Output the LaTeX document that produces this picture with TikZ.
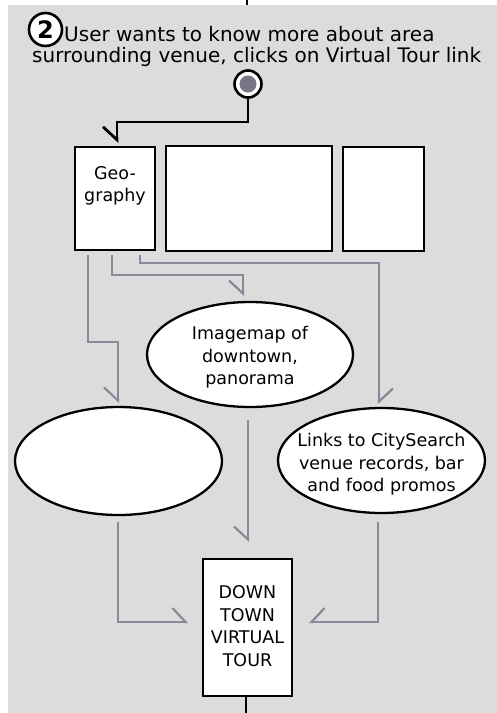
\documentclass[tikz,border=0pt]{standalone}
\usepackage{fontspec}
\setmainfont{DejaVu Sans}
\usetikzlibrary{arrows.meta,shapes.geometric}
\definecolor{panel}{RGB}{220,220,220}
\definecolor{flow}{RGB}{138,136,152}
\definecolor{dotfill}{RGB}{122,118,136}
\tikzset{
  box/.style={draw=black,fill=white,line width=2.8pt,rectangle,inner sep=0pt},
  oval/.style={draw=black,fill=white,line width=2.3pt,ellipse,inner sep=0pt},
  lbl/.style={align=center,font=\fontsize{17.5}{22.5}\selectfont,inner sep=0pt},
  ttl/.style={font=\fontsize{20}{21}\selectfont,inner sep=0pt,anchor=base west},
  link/.style={draw=black,line width=2.8pt},
  rel/.style={draw=flow,line width=2.2pt},
  harpR/.style={-{Straight Barb[right,length=13pt,width=28pt]}},
  harpL/.style={-{Straight Barb[left,length=13pt,width=28pt]}}
}
\begin{document}
\begin{tikzpicture}[x=1pt,y=-1pt]
\useasboundingbox (0,0) rectangle (497,713);
\fill[white] (0,0) rectangle (497,713);
\fill[panel] (8,5) rectangle (497,713);

% step heading
\node[circle,draw=black,line width=2.6pt,fill=white,minimum size=33pt,inner sep=0pt,
      font=\fontsize{24}{24}\selectfont\bfseries] (num) at (45.5,29.5) {2};
\node[ttl] (title1) at (64,41) {User wants to know more about area};
\node[ttl] (title2) at (32,62) {surrounding venue, clicks on Virtual Tour link};

% entry point
\node[circle,draw=black,line width=2.6pt,fill=white,minimum size=27pt,inner sep=0pt] (entry) at (248,84) {};
\fill[dotfill] (entry.center) circle (8.5pt);
\coordinate (intop) at (247,0);
\coordinate (intopend) at (247,5);
\draw[link] (intop) -- (intopend);

% page header boxes
\node[box,minimum width=80pt,minimum height=103pt] (geo) at (115,198.5) {};
\node[lbl] (geotext) at (115,186) {Geo-\\graphy};
\node[box,minimum width=166pt,minimum height=105pt] (midbox) at (249,198.5) {};
\node[box,minimum width=81pt,minimum height=104pt] (rightbox) at (383.5,199) {};

% ellipses
\node[oval,minimum width=206pt,minimum height=105pt] (imgmap) at (250,354.5) {};
\node[lbl] (imgmaptext) at (250,357.5) {Imagemap of\\downtown,\\panorama};
\node[oval,minimum width=207pt,minimum height=108pt] (blank) at (118.5,461) {};
\node[oval,minimum width=207pt,minimum height=105pt] (links) at (381.5,460.5) {};
\node[lbl] (linkstext) at (381.5,464.5) {Links to CitySearch\\venue records, bar\\and food promos};

% tour page
\node[box,minimum width=89pt,minimum height=137pt] (tour) at (247.5,627.5) {};
\node[lbl] (tourtext) at (247.5,626) {DOWN\\TOWN\\VIRTUAL\\TOUR};
\coordinate (outbot) at (246,713);
\draw[link] (tour.south -| outbot) -- (outbot);

% entry to Geography
\draw[link,harpR] (entry.south) -- (248,122) -- (117,122) -- (117,143);

% Geography to its three targets
\draw[rel,harpR] (88,255) -- (88,342) -- (118,342) -- (118,403);
\draw[rel,harpR] (112,255) -- (112,275) -- (243,275) -- (243,296);
\draw[rel,harpL] (140,255) -- (140,263) -- (379,263) -- (379,404);

% targets to the tour page
\draw[rel,harpL] (118,522) -- (118,622) -- (188,622);
\draw[rel,harpR] (248,420) -- (248,542);
\draw[rel,harpR] (378,522) -- (378,622) -- (309,622);
\end{tikzpicture}
\end{document}
